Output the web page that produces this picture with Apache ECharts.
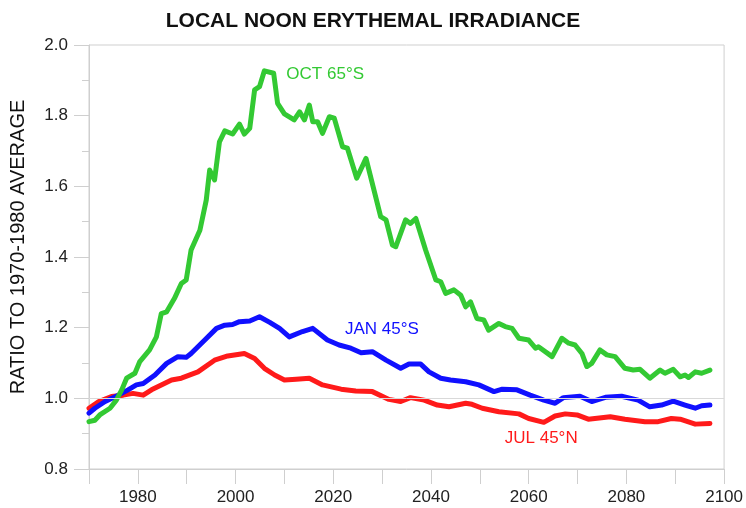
<!DOCTYPE html>
<html>
<head>
<meta charset="utf-8">
<title>Local noon erythemal irradiance</title>
<script src="https://cdn.jsdelivr.net/npm/echarts@6/dist/echarts.min.js"></script>
<style>
  html, body { margin: 0; padding: 0; background: #fff; }
  #chart { width: 746px; height: 508px; }
</style>
</head>
<body>
<div id="chart"></div>
<script>
// OCT 65S (green)
var octYears = [1970.0, 1971.2, 1972.2, 1974.3, 1975.6, 1976.7, 1977.7, 1979.4, 1980.4, 1982.4,
  1983.8, 1984.8, 1985.9, 1987.5, 1988.9, 1989.9, 1990.9, 1992.7, 1994.0, 1994.7,
  1995.7, 1996.7, 1997.8, 1999.4, 2000.8, 2001.8, 2002.9, 2003.9, 2004.9, 2005.9,
  2007.8, 2008.6, 2010.0, 2012.0, 2013.1, 2014.1, 2015.1, 2015.8, 2016.8, 2017.8,
  2019.2, 2020.2, 2021.9, 2022.9, 2024.8, 2026.7, 2029.7, 2030.8, 2032.1, 2032.8,
  2034.8, 2035.8, 2036.9, 2038.9, 2041.0, 2042.0, 2043.0, 2044.7, 2046.1, 2047.1,
  2048.1, 2049.4, 2050.8, 2051.8, 2053.9, 2055.2, 2056.6, 2058.0, 2060.0, 2061.4,
  2062.0, 2064.8, 2066.8, 2068.2, 2069.5, 2070.9, 2071.9, 2072.9, 2074.6, 2076.0,
  2077.7, 2079.7, 2081.4, 2082.8, 2084.8, 2086.9, 2087.9, 2089.6, 2091.0, 2092.0,
  2092.7, 2094.1, 2095.4, 2097.1];
var octVals = [0.934, 0.938, 0.953, 0.972, 0.995, 1.024, 1.057, 1.071, 1.104, 1.137,
  1.174, 1.240, 1.245, 1.283, 1.325, 1.335, 1.420, 1.476, 1.561, 1.646,
  1.618, 1.726, 1.757, 1.748, 1.776, 1.748, 1.764, 1.873, 1.882, 1.927,
  1.920, 1.835, 1.805, 1.788, 1.811, 1.788, 1.830, 1.783, 1.783, 1.750,
  1.797, 1.793, 1.712, 1.708, 1.623, 1.679, 1.514, 1.505, 1.434, 1.429,
  1.505, 1.495, 1.509, 1.420, 1.335, 1.330, 1.297, 1.307, 1.292, 1.259,
  1.273, 1.226, 1.222, 1.193, 1.212, 1.203, 1.198, 1.170, 1.165, 1.142,
  1.146, 1.118, 1.170, 1.156, 1.151, 1.127, 1.090, 1.099, 1.137, 1.123,
  1.118, 1.085, 1.080, 1.082, 1.057, 1.080, 1.071, 1.082, 1.061, 1.066,
  1.059, 1.075, 1.071, 1.080];

// JAN 45S (blue)
var janYears = [1970.0, 1971.2, 1973.3, 1976.0, 1978.0, 1979.7, 1981.1, 1983.5, 1985.9, 1988.2,
  1989.9, 1990.9, 1993.7, 1996.1, 1997.8, 1999.4, 2000.8, 2002.9, 2004.9, 2007.0,
  2009.0, 2011.0, 2013.7, 2015.8, 2018.8, 2021.2, 2023.6, 2025.7, 2028.0, 2030.8,
  2033.8, 2035.5, 2037.9, 2039.6, 2042.0, 2044.0, 2047.1, 2049.8, 2052.9, 2054.6,
  2057.6, 2060.3, 2063.1, 2065.4, 2067.1, 2070.5, 2072.9, 2075.7, 2079.0, 2082.4,
  2084.8, 2087.2, 2089.6, 2092.0, 2094.1, 2095.4, 2097.1];
var janVals = [0.958, 0.972, 0.991, 1.009, 1.024, 1.038, 1.042, 1.066, 1.099, 1.118,
  1.116, 1.127, 1.165, 1.198, 1.207, 1.209, 1.217, 1.219, 1.231, 1.215,
  1.198, 1.174, 1.189, 1.198, 1.165, 1.151, 1.142, 1.129, 1.132, 1.108,
  1.085, 1.097, 1.097, 1.075, 1.057, 1.052, 1.047, 1.038, 1.019, 1.026,
  1.024, 1.009, 0.995, 0.986, 1.002, 1.006, 0.991, 1.003, 1.006, 0.995,
  0.976, 0.981, 0.992, 0.981, 0.972, 0.979, 0.981];

// JUL 45N (red)
var julYears = [1970.0, 1972.0, 1974.6, 1977.0, 1979.0, 1981.1, 1982.8, 1984.8, 1986.9, 1988.9,
  1992.3, 1995.7, 1998.4, 2001.8, 2003.9, 2005.9, 2008.0, 2010.0, 2012.4, 2015.1,
  2017.8, 2021.6, 2024.6, 2028.0, 2031.4, 2033.8, 2035.8, 2038.6, 2041.3, 2043.7,
  2047.1, 2048.4, 2050.5, 2053.9, 2058.0, 2060.0, 2063.1, 2065.4, 2067.5, 2069.9,
  2072.2, 2076.7, 2079.7, 2083.8, 2086.5, 2089.2, 2091.0, 2094.1, 2097.1];
var julVals = [0.972, 0.991, 1.005, 1.009, 1.014, 1.009, 1.024, 1.038, 1.052, 1.057,
  1.075, 1.108, 1.120, 1.127, 1.113, 1.085, 1.066, 1.052, 1.054, 1.057,
  1.038, 1.026, 1.021, 1.019, 0.997, 0.991, 1.002, 0.995, 0.981, 0.976,
  0.986, 0.983, 0.972, 0.962, 0.956, 0.943, 0.932, 0.950, 0.956, 0.953,
  0.941, 0.948, 0.941, 0.934, 0.934, 0.943, 0.941, 0.927, 0.929];

var seriesNames = ['JUL 45°N', 'JAN 45°S', 'OCT 65°S'];

function pairs(xs, ys) {
  var out = [];
  for (var i = 0; i < xs.length; i++) out.push([xs[i], ys[i]]);
  return out;
}

var FONT = '"Liberation Sans", Arial, sans-serif';
var axisGray = '#cfcfcf';

var chart = echarts.init(document.getElementById('chart'), null, { renderer: 'canvas' });

function lineSeries(name, data, color, labelAt) {
  return {
    name: name,
    type: 'line',
    data: data,
    symbol: 'none',
    smooth: false,
    lineStyle: { color: color, width: 5, join: 'round', cap: 'round' },
    markPoint: {
      silent: true,
      symbol: 'circle',
      symbolSize: 0,
      data: [{ coord: labelAt }],
      label: {
        show: true,
        position: 'right',
        distance: 0,
        formatter: name,
        color: color,
        fontFamily: FONT,
        fontSize: 17
      }
    }
  };
}

var red = lineSeries(seriesNames[0], pairs(julYears, julVals), '#ff1a1a', [2055.1, 0.888]);
red.markLine = {
  silent: true,
  symbol: ['none', 'none'],
  label: { show: false },
  lineStyle: { color: '#d9d9d9', width: 1, type: 'solid' },
  data: [{ yAxis: 1.0 }]
};

var option = {
  animation: false,
  backgroundColor: '#fff',
  title: {
    text: 'LOCAL NOON ERYTHEMAL IRRADIANCE',
    left: 'center',
    top: 6,
    textStyle: { fontFamily: FONT, fontSize: 21, fontWeight: 'bold', color: '#111' }
  },
  grid: {
    left: 89, right: 20, top: 45, bottom: 39,
    show: true, borderColor: axisGray, borderWidth: 1
  },
  xAxis: {
    type: 'value',
    min: 1970, max: 2100, interval: 10,
    axisLine: { lineStyle: { color: axisGray } },
    axisTick: { length: 15, lineStyle: { color: axisGray } },
    splitLine: { show: false },
    axisLabel: {
      margin: 20,
      color: '#222',
      fontFamily: FONT,
      fontSize: 17,
      formatter: function (v) { return (v % 20 === 0 && v > 1970) ? String(v) : ''; }
    }
  },
  yAxis: {
    type: 'value',
    min: 0.8, max: 2.0, interval: 0.2,
    axisLine: { show: true, lineStyle: { color: axisGray } },
    axisTick: { show: true, length: 15, lineStyle: { color: axisGray } },
    minorTick: { show: true, splitNumber: 2, length: 7, lineStyle: { color: axisGray } },
    splitLine: { show: false },
    axisLabel: {
      margin: 21,
      color: '#222',
      fontFamily: FONT,
      fontSize: 17,
      formatter: function (v) { return v.toFixed(1); }
    }
  },
  graphic: [{
    type: 'text',
    x: 18, y: 247,
    rotation: Math.PI / 2,
    style: {
      text: 'RATIO TO 1970-1980 AVERAGE',
      fill: '#111',
      font: '20px ' + FONT,
      textAlign: 'center',
      textVerticalAlign: 'middle'
    }
  }],
  series: [
    red,
    lineSeries(seriesNames[1], pairs(janYears, janVals), '#1010ff', [2022.4, 1.196]),
    lineSeries(seriesNames[2], pairs(octYears, octVals), '#33c933', [2010.4, 1.918])
  ]
};

chart.setOption(option);
</script>
</body>
</html>
